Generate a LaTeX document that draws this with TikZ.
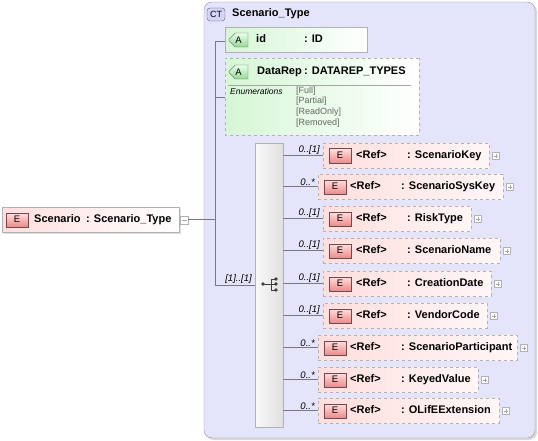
\documentclass[tikz,border=0pt]{standalone}
\usepackage{fontspec}
\setmainfont{Liberation Sans}
\usetikzlibrary{shapes.misc,positioning}

\definecolor{ctfill}{RGB}{228,228,250}
\definecolor{ctline}{RGB}{150,150,168}
\definecolor{elpink}{RGB}{255,222,222}
\definecolor{elpale}{RGB}{255,246,246}
\definecolor{badgered}{RGB}{236,140,140}
\definecolor{badgeline}{RGB}{120,70,70}
\definecolor{atgreen}{RGB}{214,246,214}
\definecolor{badgegreen}{RGB}{150,215,150}
\definecolor{badgegline}{RGB}{60,110,60}
\definecolor{conline}{RGB}{120,120,130}
\definecolor{ctbadge}{RGB}{212,212,246}
\definecolor{ctbline}{RGB}{90,90,140}

\tikzset{
  elem/.style={draw=gray!60, dashed, left color=elpink, right color=elpale,
    minimum height=25pt, anchor=north west, inner sep=0pt},
  mainel/.style={draw=gray!60, left color=elpink, right color=white,
    minimum height=25pt, anchor=north west, inner sep=0pt},
  ebadge/.style={draw=badgeline, top color=red!12, bottom color=badgered,
    minimum width=22pt, minimum height=14pt, inner sep=0pt, font=\fontsize{9.5}{10}\selectfont},
  abadge/.style={draw=badgegline, top color=green!8, bottom color=badgegreen,
    chamfered rectangle, chamfered rectangle corners={north west,south west},
    chamfered rectangle xsep=5pt, chamfered rectangle ysep=7pt,
    minimum width=19pt, minimum height=14pt, inner sep=0pt, font=\fontsize{9.5}{10}\selectfont},
  attr/.style={chamfered rectangle, chamfered rectangle corners={north west,south west},
    chamfered rectangle xsep=5pt, chamfered rectangle ysep=6pt,
    left color=atgreen, right color=white, anchor=north west, inner sep=0pt},
  lbl/.style={anchor=west, inner sep=0pt, text height=8pt, text depth=2pt,
    font=\fontsize{11}{12}\selectfont\bfseries},
  mult/.style={anchor=south east, inner sep=0pt, font=\fontsize{9.5}{10}\selectfont\itshape},
  enum/.style={anchor=west, inner sep=0pt, text=black!60, font=\fontsize{9}{10}\selectfont},
  con/.style={draw=conline, line width=0.5pt},
}
\tikzset{
  pics/plusbox/.style={code={
    \draw[gray!60,fill=white] (0,-3.5) rectangle (7,3.5);
    \draw[gray!70] (1.5,0) -- (5.5,0) (3.5,-2) -- (3.5,2);
  }}
}
\tikzset{
  pics/minusbox/.style={code={
    \draw[gray!60,fill=white] (0,-4) rectangle (8,4);
    \draw[gray!70] (1.5,0) -- (6.5,0);
  }}
}

\begin{document}
\begin{tikzpicture}[x=1pt,y=-1pt]
  \useasboundingbox[fill=white] (0,0) rectangle (538,441);

  %COMPLEX TYPE
  \fill[gray!30,rounded corners=8pt] (206,4) rectangle (537,440);
  \draw[ctline,fill=ctfill,rounded corners=8pt] (204,2) rectangle (535,438);
  \node[draw=ctbline,fill=ctbadge,rounded corners=3pt,minimum width=18pt,minimum height=13pt,
    inner sep=0pt,font=\fontsize{9}{9}\selectfont] (ct) at (216,14.5) {CT};
  \node[lbl] (cttitle) at (232,14) {Scenario\_Type};

  %ROOT ELEMENT
  \fill[gray!25] (4,209) rectangle (181,234);
  \node[mainel, minimum width=177pt] (scen) at (2,207) {};
  \node[ebadge] (scenE) at ([xshift=15pt]scen.west) {E};
  \node[lbl] at ([xshift=32pt]scen.west) {Scenario};
  \node[lbl] at ([xshift=84pt]scen.west) {: Scenario\_Type};
  \path ([xshift=1pt]scen.east) pic {minusbox};
  \coordinate (scenout) at ([xshift=9pt]scen.east);

  %ATTRIBUTES
  \node[attr, draw=gray!60, minimum width=142pt, minimum height=25pt] (id) at (225,27) {};
  \node[abadge] (idA) at (238.5,40) {A};
  \node[lbl] at (256,40) {id};
  \node[lbl] at (304,40) {: ID};

  \node[attr, draw=gray!60, dashed, minimum width=194pt, minimum height=77pt] (drep) at (225,58) {};
  \node[abadge] (drepA) at (238.5,72) {A};
  \node[lbl] at (257,72) {DataRep};
  \node[lbl] at (304,72) {: DATAREP\_TYPES};
  \draw[gray!70] (228,85) -- (411,85);
  \node[enum, text=black, font=\fontsize{8.5}{9}\selectfont\itshape] at (230,91) {Enumerations};
  \node[enum] at (296,91) {[Full]};
  \node[enum] at (296,101.5) {[Partial]};
  \node[enum] at (296,112.5) {[ReadOnly]};
  \node[enum] at (296,123.5) {[Removed]};

  %TRUNK
  \coordinate (ttop) at (215,41);
  \coordinate (tbot) at (215,285);
  \draw[con] (ttop) -- (tbot);
  \draw[con] (scenout) -- (scenout -| ttop);
  \draw[con] (ttop) -- (id.west |- ttop);
  \draw[con] (215,97) -- (drep.west |- 0,97);

  %SEQUENCE
  \node[draw=gray!60, left color=gray!5, right color=gray!25, minimum width=28pt,
    minimum height=284pt, anchor=north west, inner sep=0pt] (seq) at (255,143) {};
  \draw[con] (tbot) -- (seq.west |- tbot) node[mult, pos=1, xshift=-3pt, yshift=1pt] {[1]..[1]};
  \fill[black!75] (263,284) circle (1.9);
  \draw[black!75, line width=0.8pt] (263,284) -- (271,284) (271,279) -- (271,290)
    (271,279) -- (276,279) (271,290) -- (276,290) (271,284) -- (276,284);
  \fill[black!75] (276,279) circle (1.9) (276,284) circle (1.9) (276,290) circle (1.9);

  %CHILD ELEMENTS
  \node[elem, minimum width=166pt] (skey) at (323,143) {};
  \node[ebadge] at ([xshift=17pt]skey.west) {E};
  \node[lbl] at ([xshift=33pt]skey.west) {<Ref>};
  \node[lbl] at ([xshift=84pt]skey.west) {: ScenarioKey};
  \path ([xshift=3pt]skey.east) pic {plusbox};
  \draw[con] (seq.east |- skey.west) -- (skey.west) node[mult, pos=1, xshift=-3pt, yshift=1pt] {0..[1]};

  \node[elem, minimum width=185pt] (ssys) at (318,174) {};
  \node[ebadge] at ([xshift=17pt]ssys.west) {E};
  \node[lbl] at ([xshift=32pt]ssys.west) {<Ref>};
  \node[lbl] at ([xshift=83pt]ssys.west) {: ScenarioSysKey};
  \path ([xshift=3pt]ssys.east) pic {plusbox};
  \draw[con] (seq.east |- ssys.west) -- (ssys.west) node[mult, pos=1, xshift=-3pt, yshift=1pt] {0..*};

  \node[elem, minimum width=148pt] (risk) at (323,206) {};
  \node[ebadge] at ([xshift=17pt]risk.west) {E};
  \node[lbl] at ([xshift=33pt]risk.west) {<Ref>};
  \node[lbl] at ([xshift=84pt]risk.west) {: RiskType};
  \path ([xshift=3pt]risk.east) pic {plusbox};
  \draw[con] (seq.east |- risk.west) -- (risk.west) node[mult, pos=1, xshift=-3pt, yshift=1pt] {0..[1]};

  \node[elem, minimum width=177pt] (sname) at (323,238) {};
  \node[ebadge] at ([xshift=17pt]sname.west) {E};
  \node[lbl] at ([xshift=33pt]sname.west) {<Ref>};
  \node[lbl] at ([xshift=84pt]sname.west) {: ScenarioName};
  \path ([xshift=3pt]sname.east) pic {plusbox};
  \draw[con] (seq.east |- sname.west) -- (sname.west) node[mult, pos=1, xshift=-3pt, yshift=1pt] {0..[1]};

  \node[elem, minimum width=168pt] (cdate) at (323,271) {};
  \node[ebadge] at ([xshift=17pt]cdate.west) {E};
  \node[lbl] at ([xshift=33pt]cdate.west) {<Ref>};
  \node[lbl] at ([xshift=84pt]cdate.west) {: CreationDate};
  \path ([xshift=3pt]cdate.east) pic {plusbox};
  \draw[con] (seq.east |- cdate.west) -- (cdate.west) node[mult, pos=1, xshift=-3pt, yshift=1pt] {0..[1]};

  \node[elem, minimum width=164pt] (vcode) at (323,303) {};
  \node[ebadge] at ([xshift=17pt]vcode.west) {E};
  \node[lbl] at ([xshift=33pt]vcode.west) {<Ref>};
  \node[lbl] at ([xshift=84pt]vcode.west) {: VendorCode};
  \path ([xshift=3pt]vcode.east) pic {plusbox};
  \draw[con] (seq.east |- vcode.west) -- (vcode.west) node[mult, pos=1, xshift=-3pt, yshift=1pt] {0..[1]};

  \node[elem, minimum width=199pt] (spart) at (318,335) {};
  \node[ebadge] at ([xshift=17pt]spart.west) {E};
  \node[lbl] at ([xshift=32pt]spart.west) {<Ref>};
  \node[lbl] at ([xshift=83pt]spart.west) {: ScenarioParticipant};
  \path ([xshift=3pt]spart.east) pic {plusbox};
  \draw[con] (seq.east |- spart.west) -- (spart.west) node[mult, pos=1, xshift=-3pt, yshift=1pt] {0..*};

  \node[elem, minimum width=160pt] (kval) at (318,367) {};
  \node[ebadge] at ([xshift=17pt]kval.west) {E};
  \node[lbl] at ([xshift=32pt]kval.west) {<Ref>};
  \node[lbl] at ([xshift=83pt]kval.west) {: KeyedValue};
  \path ([xshift=3pt]kval.east) pic {plusbox};
  \draw[con] (seq.east |- kval.west) -- (kval.west) node[mult, pos=1, xshift=-3pt, yshift=1pt] {0..*};

  \node[elem, minimum width=181pt] (olif) at (318,398) {};
  \node[ebadge] at ([xshift=17pt]olif.west) {E};
  \node[lbl] at ([xshift=32pt]olif.west) {<Ref>};
  \node[lbl] at ([xshift=83pt]olif.west) {: OLifEExtension};
  \path ([xshift=3pt]olif.east) pic {plusbox};
  \draw[con] (seq.east |- olif.west) -- (olif.west) node[mult, pos=1, xshift=-3pt, yshift=1pt] {0..*};
\end{tikzpicture}
\end{document}
